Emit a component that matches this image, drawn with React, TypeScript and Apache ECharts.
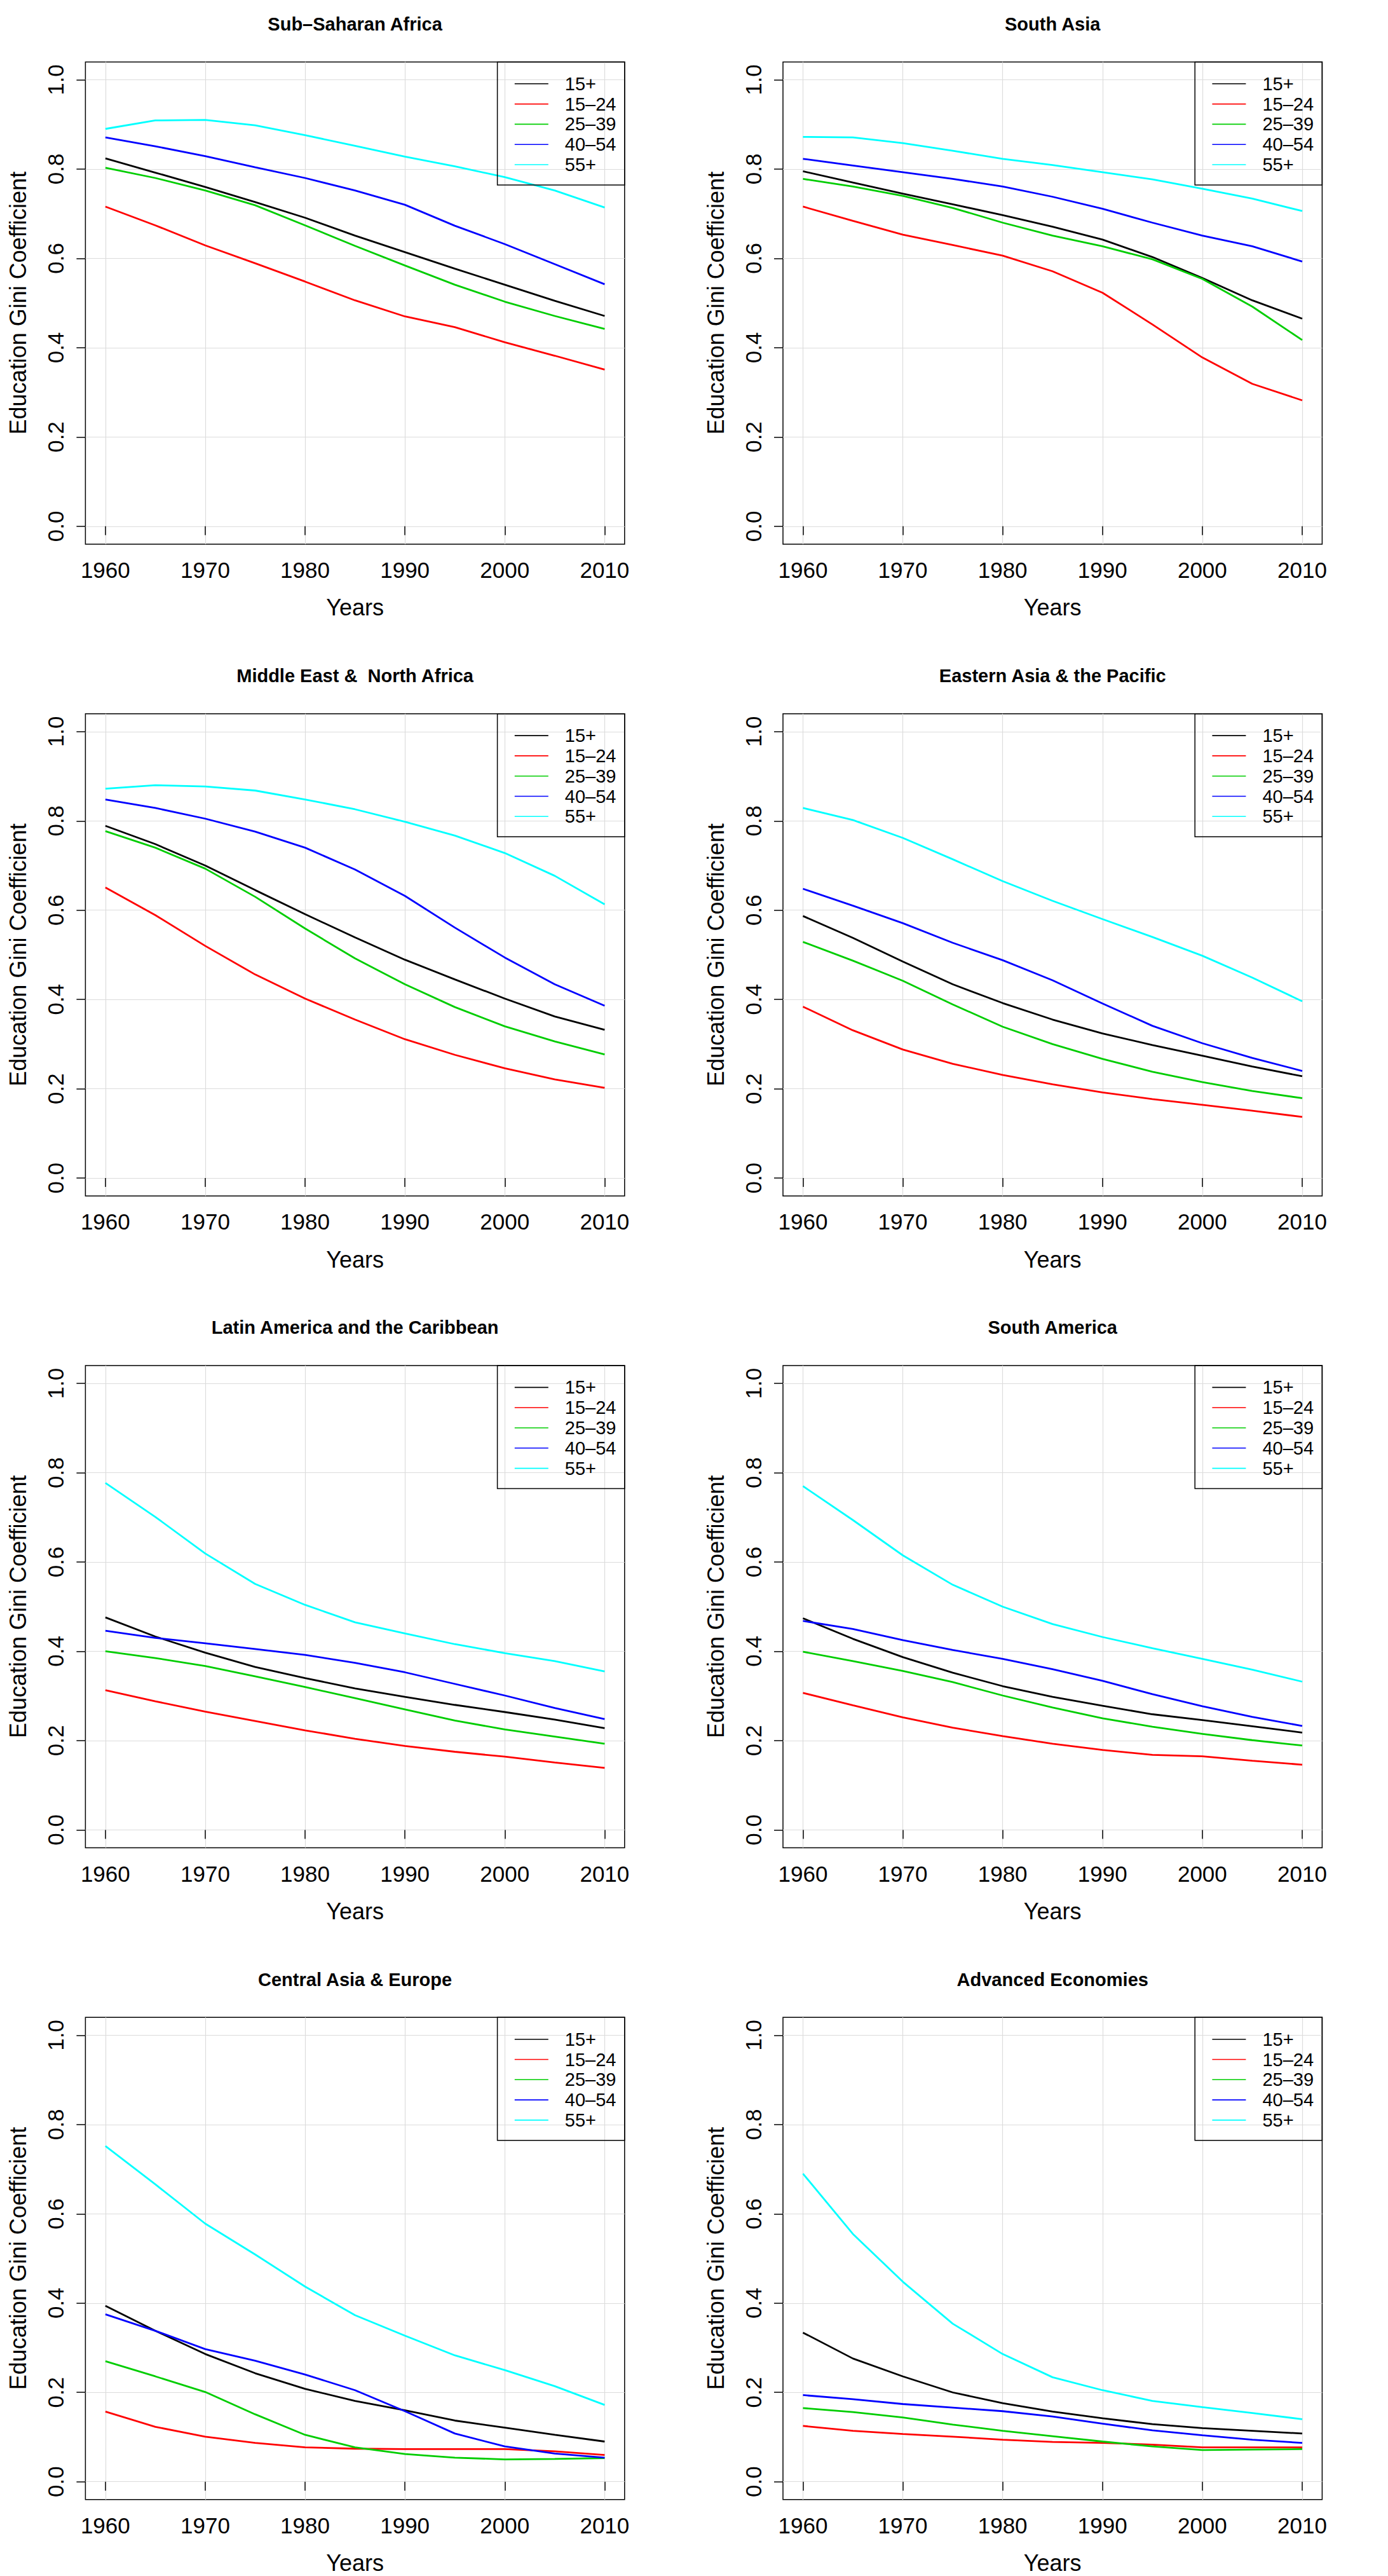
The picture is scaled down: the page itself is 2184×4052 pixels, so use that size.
import React, { useEffect, useRef } from "react";
import * as echarts from "echarts";

const YEARS = [1960, 1965, 1970, 1975, 1980, 1985, 1990, 1995, 2000, 2005, 2010];
const X_TICKS = [1960, 1970, 1980, 1990, 2000, 2010];
const Y_TICKS = [0, 0.2, 0.4, 0.6, 0.8, 1.0];
const GROUPS = ["15+", "15–24", "25–39", "40–54", "55+"];
const COLORS = ["#000000", "#ff0000", "#00cd00", "#0000ff", "#00ffff"];
const REGIONS = [
  "Sub–Saharan Africa",
  "South Asia",
  "Middle East &  North Africa",
  "Eastern Asia & the Pacific",
  "Latin America and the Caribbean",
  "South America",
  "Central Asia & Europe",
  "Advanced Economies",
];

// rows: 15+, 15–24, 25–39, 40–54, 55+
const SUB_SAHARAN_AFRICA = [
  [0.824, 0.792, 0.76, 0.726, 0.691, 0.651, 0.614, 0.577, 0.541, 0.505, 0.471],
  [0.716, 0.674, 0.629, 0.589, 0.548, 0.506, 0.47, 0.446, 0.412, 0.382, 0.351],
  [0.803, 0.78, 0.752, 0.719, 0.674, 0.628, 0.584, 0.541, 0.503, 0.471, 0.442],
  [0.871, 0.851, 0.829, 0.804, 0.78, 0.752, 0.72, 0.673, 0.632, 0.587, 0.542],
  [0.89, 0.909, 0.91, 0.898, 0.876, 0.852, 0.828, 0.806, 0.782, 0.752, 0.714],
];
const SOUTH_ASIA = [
  [0.795, 0.77, 0.745, 0.721, 0.697, 0.671, 0.642, 0.603, 0.556, 0.506, 0.465],
  [0.716, 0.684, 0.653, 0.63, 0.606, 0.571, 0.523, 0.452, 0.378, 0.319, 0.282],
  [0.778, 0.761, 0.74, 0.713, 0.68, 0.651, 0.627, 0.598, 0.554, 0.492, 0.417],
  [0.823, 0.808, 0.793, 0.778, 0.761, 0.738, 0.711, 0.68, 0.651, 0.627, 0.593],
  [0.872, 0.871, 0.858, 0.841, 0.823, 0.809, 0.793, 0.777, 0.756, 0.734, 0.706],
];
const MIDDLE_EAST_NORTH_AFRICA = [
  [0.789, 0.748, 0.7, 0.645, 0.591, 0.539, 0.489, 0.445, 0.402, 0.362, 0.332],
  [0.651, 0.589, 0.52, 0.456, 0.402, 0.355, 0.311, 0.276, 0.246, 0.221, 0.202],
  [0.777, 0.74, 0.693, 0.63, 0.559, 0.492, 0.434, 0.383, 0.34, 0.306, 0.277],
  [0.848, 0.829, 0.805, 0.776, 0.74, 0.691, 0.632, 0.561, 0.494, 0.434, 0.386],
  [0.872, 0.88, 0.877, 0.868, 0.848, 0.826, 0.798, 0.767, 0.728, 0.677, 0.613],
];
const EASTERN_ASIA_PACIFIC = [
  [0.587, 0.538, 0.485, 0.434, 0.392, 0.355, 0.324, 0.298, 0.274, 0.25, 0.228],
  [0.384, 0.331, 0.288, 0.256, 0.231, 0.21, 0.192, 0.177, 0.164, 0.151, 0.137],
  [0.529, 0.487, 0.442, 0.389, 0.339, 0.3, 0.267, 0.238, 0.215, 0.195, 0.179],
  [0.648, 0.61, 0.571, 0.527, 0.488, 0.443, 0.391, 0.341, 0.302, 0.269, 0.24],
  [0.829, 0.802, 0.762, 0.714, 0.665, 0.621, 0.58, 0.54, 0.498, 0.449, 0.396],
];
const LATIN_AMERICA_CARIBBEAN = [
  [0.476, 0.433, 0.397, 0.365, 0.34, 0.317, 0.298, 0.28, 0.264, 0.247, 0.228],
  [0.313, 0.288, 0.265, 0.244, 0.223, 0.204, 0.188, 0.175, 0.164, 0.151, 0.139],
  [0.4, 0.385, 0.367, 0.344, 0.32, 0.295, 0.27, 0.245, 0.225, 0.209, 0.193],
  [0.446, 0.43, 0.418, 0.405, 0.392, 0.374, 0.353, 0.327, 0.301, 0.273, 0.248],
  [0.777, 0.701, 0.619, 0.551, 0.504, 0.465, 0.44, 0.416, 0.396, 0.378, 0.355],
];
const SOUTH_AMERICA = [
  [0.474, 0.428, 0.387, 0.352, 0.322, 0.298, 0.278, 0.259, 0.246, 0.232, 0.218],
  [0.307, 0.279, 0.252, 0.229, 0.21, 0.193, 0.179, 0.168, 0.165, 0.155, 0.146],
  [0.399, 0.378, 0.356, 0.331, 0.301, 0.274, 0.25, 0.231, 0.215, 0.201, 0.189],
  [0.468, 0.45, 0.425, 0.403, 0.383, 0.36, 0.334, 0.304, 0.277, 0.253, 0.233],
  [0.77, 0.694, 0.615, 0.549, 0.5, 0.461, 0.432, 0.407, 0.383, 0.359, 0.332],
];
const CENTRAL_ASIA_EUROPE = [
  [0.394, 0.338, 0.286, 0.243, 0.208, 0.181, 0.16, 0.137, 0.121, 0.105, 0.09],
  [0.157, 0.123, 0.101, 0.087, 0.077, 0.074, 0.073, 0.073, 0.073, 0.068, 0.06],
  [0.27, 0.236, 0.201, 0.151, 0.105, 0.077, 0.062, 0.054, 0.05, 0.051, 0.053],
  [0.375, 0.338, 0.297, 0.271, 0.24, 0.205, 0.158, 0.108, 0.079, 0.063, 0.054],
  [0.752, 0.666, 0.578, 0.509, 0.437, 0.373, 0.327, 0.283, 0.25, 0.214, 0.172],
];
const ADVANCED_ECONOMIES = [
  [0.334, 0.276, 0.236, 0.2, 0.176, 0.157, 0.142, 0.129, 0.12, 0.114, 0.108],
  [0.125, 0.114, 0.107, 0.101, 0.094, 0.089, 0.087, 0.083, 0.077, 0.077, 0.077],
  [0.165, 0.156, 0.144, 0.128, 0.114, 0.102, 0.09, 0.079, 0.071, 0.072, 0.073],
  [0.194, 0.185, 0.174, 0.166, 0.158, 0.146, 0.13, 0.115, 0.104, 0.094, 0.087],
  [0.69, 0.555, 0.448, 0.354, 0.286, 0.234, 0.205, 0.181, 0.167, 0.154, 0.14],
];

const REGION_DATA = [
  SUB_SAHARAN_AFRICA,
  SOUTH_ASIA,
  MIDDLE_EAST_NORTH_AFRICA,
  EASTERN_ASIA_PACIFIC,
  LATIN_AMERICA_CARIBBEAN,
  SOUTH_AMERICA,
  CENTRAL_ASIA_EUROPE,
  ADVANCED_ECONOMIES,
];

const FONT = "'Liberation Sans', Arial, Helvetica, sans-serif";
const COL_LEFT = [134.4, 1232];
const BOX_W = 848.4;
const BOX_H = 758.5;
const ROW_TOP0 = 97.4;
const ROW_STEP = 1025.3;
const LEG_W = 200.2;
const LEG_H = 193.5;

export default function App() {
  const ref = useRef<HTMLDivElement>(null);

  useEffect(() => {
    if (!ref.current) return;
    const chart = echarts.init(ref.current, null, { renderer: "svg" });

    const grids: any[] = [];
    const xAxes: any[] = [];
    const yAxes: any[] = [];
    const series: any[] = [];
    const titles: any[] = [];
    const legends: any[] = [];
    const graphics: any[] = [];

    REGION_DATA.forEach((data, i) => {
      const col = i % 2;
      const row = Math.floor(i / 2);
      const left = COL_LEFT[col];
      const top = ROW_TOP0 + row * ROW_STEP;

      grids.push({
        left,
        top,
        width: BOX_W,
        height: BOX_H,
        show: true,
        borderColor: "#000",
        borderWidth: 1.5,
        backgroundColor: "transparent",
        containLabel: false,
        outerBoundsMode: "none",
      });

      xAxes.push({
        type: "value",
        gridIndex: i,
        min: 1958,
        max: 2012,
        name: "Years",
        nameLocation: "middle",
        nameGap: 82,
        nameTextStyle: { fontSize: 36, fontFamily: FONT, color: "#000" },
        axisLine: { show: false },
        axisTick: {
          show: true,
          inside: false,
          length: 14,
          customValues: X_TICKS,
          lineStyle: { color: "#000", width: 1.5 },
        },
        axisLabel: {
          show: true,
          customValues: X_TICKS,
          margin: 23,
          fontSize: 35,
          fontFamily: FONT,
          color: "#000",
          formatter: (v: number) => String(Math.round(v)),
        },
        splitLine: { show: true, lineStyle: { color: "#dcdcdc", width: 1.2 } },
      });

      yAxes.push({
        type: "value",
        gridIndex: i,
        min: -0.04,
        max: 1.04,
        name: "Education Gini Coefficient",
        nameLocation: "middle",
        nameGap: 88,
        nameTextStyle: { fontSize: 36, fontFamily: FONT, color: "#000" },
        axisLine: { show: false },
        axisTick: {
          show: true,
          inside: false,
          length: 14,
          customValues: Y_TICKS,
          lineStyle: { color: "#000", width: 1.5 },
        },
        axisLabel: {
          show: true,
          customValues: Y_TICKS,
          rotate: 90,
          margin: 29,
          fontSize: 35,
          fontFamily: FONT,
          color: "#000",
          formatter: (v: number) => v.toFixed(1),
        },
        splitLine: { show: true, lineStyle: { color: "#dcdcdc", width: 1.2 } },
      });

      GROUPS.forEach((g, j) => {
        series.push({
          type: "line",
          name: g,
          xAxisIndex: i,
          yAxisIndex: i,
          data: YEARS.map((y, k) => [y, data[j][k]]),
          symbol: "none",
          showSymbol: false,
          silent: true,
          z: 3,
          lineStyle: { color: COLORS[j], width: 2.8 },
          itemStyle: { color: COLORS[j] },
        });
      });

      titles.push({
        text: REGIONS[i],
        left: left + BOX_W / 2,
        top: top - 59.8 - 15,
        textAlign: "center",
        padding: 0,
        textStyle: {
          fontSize: 29,
          fontWeight: "bold",
          fontFamily: FONT,
          color: "#000",
          lineHeight: 30,
        },
      });

      legends.push({
        data: GROUPS,
        orient: "vertical",
        left: left + BOX_W - 173,
        top: top + 18.5,
        padding: 0,
        itemGap: 0,
        itemWidth: 53,
        itemHeight: 1.6,
        icon: "rect",
        selectedMode: false,
        itemStyle: { borderWidth: 0 },
        textStyle: {
          fontSize: 29,
          fontFamily: FONT,
          color: "#000",
          lineHeight: 31.8,
          padding: [0, 0, 0, 21],
        },
      });

      graphics.push({
        type: "rect",
        silent: true,
        z: 10,
        shape: { x: left + BOX_W - LEG_W, y: top, width: LEG_W, height: LEG_H },
        style: { fill: "none", stroke: "#000", lineWidth: 1.5 },
      });
    });

    chart.setOption({
      animation: false,
      backgroundColor: "#ffffff",
      title: titles,
      legend: legends,
      grid: grids,
      xAxis: xAxes,
      yAxis: yAxes,
      series,
      graphic: graphics,
    });

    return () => {
      chart.dispose();
    };
  }, []);

  return (
    <div
      ref={ref}
      style={{
        position: "absolute",
        left: 0,
        top: 0,
        width: 2184,
        height: 4052,
        background: "#ffffff",
      }}
    />
  );
}
